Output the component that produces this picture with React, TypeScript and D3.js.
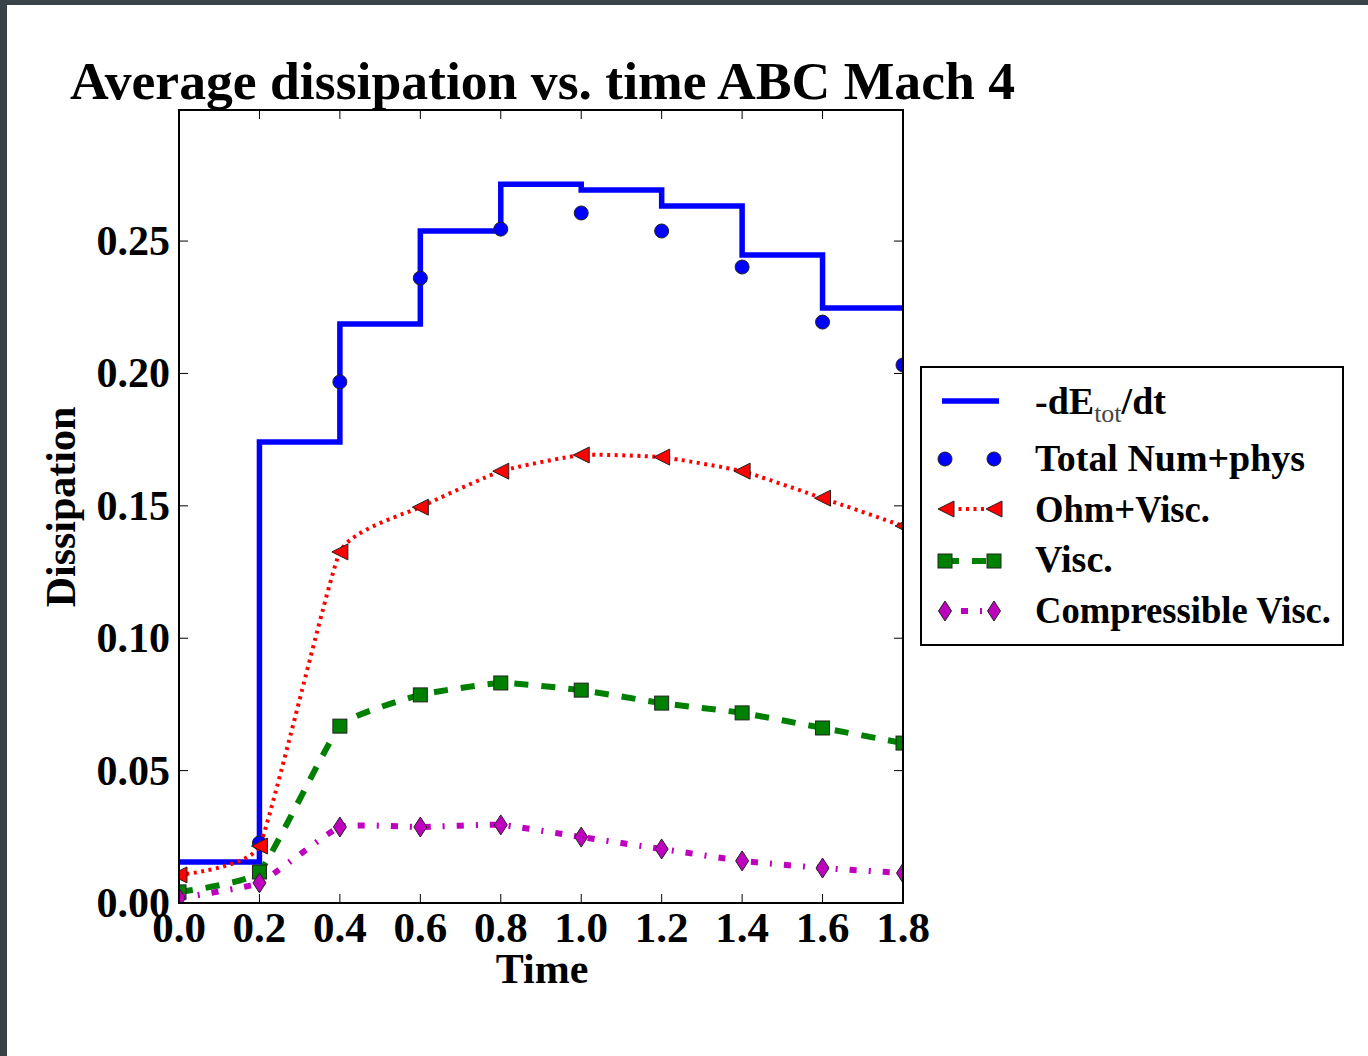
import React from "react";
import * as d3 from "d3";

const times = [0.0, 0.2, 0.4, 0.6, 0.8, 1.0, 1.2, 1.4, 1.6, 1.8];
const dEdtSteps = [0.0155, 0.1741, 0.2187, 0.2538, 0.2715, 0.2693, 0.2632, 0.2447, 0.2247, 0.2247];
const totalTimes = [0.2, 0.4, 0.6, 0.8, 1.0, 1.2, 1.4, 1.6, 1.8];
const totalNumPhys = [0.0227, 0.1968, 0.236, 0.2545, 0.2606, 0.2538, 0.2402, 0.2194, 0.2032];
const ohmVisc = [0.0106, 0.0215, 0.1326, 0.1495, 0.1631, 0.1692, 0.1684, 0.1631, 0.1529, 0.1424];
const visc = [0.0042, 0.0117, 0.0668, 0.0786, 0.0831, 0.0804, 0.0755, 0.0718, 0.0661, 0.0604];
const compVisc = [0.0019, 0.0076, 0.0287, 0.0287, 0.0295, 0.0249, 0.0204, 0.0159, 0.0132, 0.0113];
const xTicks = [0, 0.2, 0.4, 0.6, 0.8, 1.0, 1.2, 1.4, 1.6, 1.8];
const yTicks = [0, 0.05, 0.1, 0.15, 0.2, 0.25];

const FONT = "'Liberation Serif', 'DejaVu Serif', serif";
const L = 179, R = 903, T = 110, B = 903;

const x = d3.scaleLinear().domain([0, 1.8]).range([L, R]);
const y = d3.scaleLinear().domain([0, 0.2995]).range([B, T]);

const EDGE = "#222";

function Circle({ cx, cy }: { cx: number; cy: number }) {
  return <circle cx={cx} cy={cy} r={7} fill="#0000ff" stroke={EDGE} strokeWidth={1} />;
}
function TriLeft({ cx, cy }: { cx: number; cy: number }) {
  const s = 8;
  return (
    <path
      d={`M${cx - s},${cy} L${cx + s},${cy - s} L${cx + s},${cy + s} Z`}
      fill="#ff0000"
      stroke={EDGE}
      strokeWidth={1}
    />
  );
}
function Square({ cx, cy }: { cx: number; cy: number }) {
  const s = 7;
  return <rect x={cx - s} y={cy - s} width={2 * s} height={2 * s} fill="#008000" stroke={EDGE} strokeWidth={1} />;
}
function Diamond({ cx, cy }: { cx: number; cy: number }) {
  const w = 6.5, h = 10;
  return (
    <path
      d={`M${cx},${cy - h} L${cx + w},${cy} L${cx},${cy + h} L${cx - w},${cy} Z`}
      fill="#bf00bf"
      stroke={EDGE}
      strokeWidth={1}
    />
  );
}

export default function App() {
  const stepLine = d3
    .line<[number, number]>()
    .x((d) => x(d[0]))
    .y((d) => y(d[1]))
    .curve(d3.curveStepAfter);
  const smooth = d3
    .line<[number, number]>()
    .x((d) => x(d[0]))
    .y((d) => y(d[1]))
    .curve(d3.curveCardinal.tension(0.6));

  const stepPts: [number, number][] = times.map((t, i) => [t, dEdtSteps[i]]);
  const redPts: [number, number][] = times.map((t, i) => [t, ohmVisc[i]]);
  const greenPts: [number, number][] = times.map((t, i) => [t, visc[i]]);
  const magPts: [number, number][] = times.map((t, i) => [t, compVisc[i]]);

  const legendRows = [401, 459, 509, 561, 611];

  return (
    <svg
      width={1368}
      height={1056}
      style={{ position: "absolute", left: 0, top: 0, display: "block" }}
      fontFamily={FONT}
    >
      <rect x={0} y={0} width={1368} height={1056} fill="#394246" />
      <rect x={7} y={5} width={1361} height={1051} fill="#ffffff" />
      <defs>
        <clipPath id="plotclip">
          <rect x={L} y={T} width={R - L} height={B - T} />
        </clipPath>
      </defs>

      <text x={70} y={99} fontSize={53} fontWeight="bold" textLength={945} lengthAdjust="spacingAndGlyphs">
        Average dissipation vs. time ABC Mach 4
      </text>

      <g clipPath="url(#plotclip)">
        <path d={stepLine(stepPts) || ""} fill="none" stroke="#0000ff" strokeWidth={5.5} strokeLinejoin="miter" />
        {totalTimes.map((t, i) => (
          <Circle key={"c" + i} cx={x(t)} cy={y(totalNumPhys[i])} />
        ))}
        <path d={smooth(redPts) || ""} fill="none" stroke="#ff0000" strokeWidth={4} strokeDasharray="3,4.5" />
        {times.map((t, i) => (
          <TriLeft key={"r" + i} cx={x(t)} cy={y(ohmVisc[i])} />
        ))}
        <path d={smooth(greenPts) || ""} fill="none" stroke="#008000" strokeWidth={6} strokeDasharray="14,13" />
        {times.map((t, i) => (
          <Square key={"g" + i} cx={x(t)} cy={y(visc[i])} />
        ))}
        <path d={smooth(magPts) || ""} fill="none" stroke="#bf00bf" strokeWidth={6} strokeDasharray="7,12,2,12" />
        {times.map((t, i) => (
          <Diamond key={"m" + i} cx={x(t)} cy={y(compVisc[i])} />
        ))}
      </g>

      <rect x={L} y={T} width={R - L} height={B - T} fill="none" stroke="#000" strokeWidth={2} />

      {xTicks.map((t, i) => (
        <g key={"xt" + i}>
          <line x1={x(t)} x2={x(t)} y1={B} y2={B - 9} stroke="#000" strokeWidth={1} />
          <line x1={x(t)} x2={x(t)} y1={T} y2={T + 9} stroke="#000" strokeWidth={1} />
          <text x={x(t)} y={942} fontSize={43} fontWeight="bold" textAnchor="middle">
            {t.toFixed(1)}
          </text>
        </g>
      ))}
      {yTicks.map((t, i) => (
        <g key={"yt" + i}>
          <line x1={L} x2={L + 9} y1={y(t)} y2={y(t)} stroke="#000" strokeWidth={1} />
          <line x1={R} x2={R - 9} y1={y(t)} y2={y(t)} stroke="#000" strokeWidth={1} />
          <text x={170} y={y(t) + 14} fontSize={42} fontWeight="bold" textAnchor="end">
            {t.toFixed(2)}
          </text>
        </g>
      ))}

      <text x={542} y={983} fontSize={42} fontWeight="bold" textAnchor="middle">
        Time
      </text>
      <text transform={`translate(75,507) rotate(-90)`} fontSize={42} fontWeight="bold" textAnchor="middle">
        Dissipation
      </text>

      <rect x={921} y={367} width={422} height={278} fill="#fff" stroke="#000" strokeWidth={2} />
      <line x1={942} x2={999} y1={legendRows[0]} y2={legendRows[0]} stroke="#0000ff" strokeWidth={5.5} />
      <Circle cx={945} cy={legendRows[1]} />
      <Circle cx={994} cy={legendRows[1]} />
      <line x1={945} x2={994} y1={legendRows[2]} y2={legendRows[2]} stroke="#ff0000" strokeWidth={4} strokeDasharray="3,4.5" strokeDashoffset={-6} />
      <TriLeft cx={946} cy={legendRows[2]} />
      <TriLeft cx={994} cy={legendRows[2]} />
      <line x1={945} x2={994} y1={legendRows[3]} y2={legendRows[3]} stroke="#008000" strokeWidth={6} strokeDasharray="14,13" />
      <Square cx={945} cy={legendRows[3]} />
      <Square cx={994} cy={legendRows[3]} />
      <line x1={945} x2={994} y1={legendRows[4]} y2={legendRows[4]} stroke="#bf00bf" strokeWidth={6} strokeDasharray="7,12,2,12" strokeDashoffset={-16} />
      <Diamond cx={945} cy={legendRows[4]} />
      <Diamond cx={994} cy={legendRows[4]} />

      <text x={1035} y={414} fontSize={38} fontWeight="bold">
        -dE
        <tspan fontSize={26} fontWeight="normal" fill="#444" dy={8}>
          tot
        </tspan>
        <tspan dy={-8}>/dt</tspan>
      </text>
      <text x={1035} y={471} fontSize={38} fontWeight="bold" textLength={270} lengthAdjust="spacingAndGlyphs">
        Total Num+phys
      </text>
      <text x={1035} y={522} fontSize={38} fontWeight="bold" textLength={175} lengthAdjust="spacingAndGlyphs">
        Ohm+Visc.
      </text>
      <text x={1035} y={572} fontSize={38} fontWeight="bold">
        Visc.
      </text>
      <text x={1035} y={623} fontSize={38} fontWeight="bold" textLength={296} lengthAdjust="spacingAndGlyphs">
        Compressible Visc.
      </text>
    </svg>
  );
}
